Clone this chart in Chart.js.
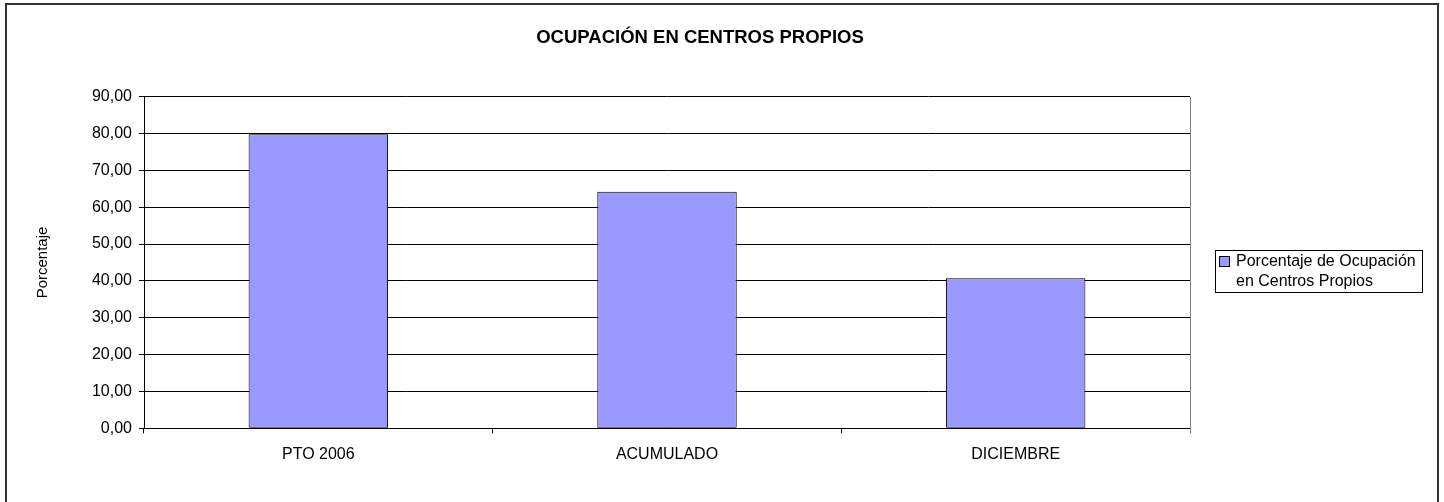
<!DOCTYPE html>
<html>
<head>
<meta charset="utf-8">
<script src="https://cdn.jsdelivr.net/npm/chart.js@4"></script>
<style>
  html, body { margin: 0; padding: 0; background: #fff; overflow: hidden; }
  #wrap { position: relative; width: 1444px; height: 502px; }
  #frame { position: absolute; left: 5px; top: 3px; width: 1430px; height: 520px; border: 2px solid #333; pointer-events: none; }
</style>
</head>
<body>
<div id="wrap">
  <canvas id="chart"></canvas>
  <div id="frame"></div>
</div>
<script>
const categories = ['PTO 2006', 'ACUMULADO', 'DICIEMBRE'];
const ocupacion = [79.8, 64.2, 40.7];
const legendLines = ['Porcentaje de Ocupación', 'en Centros Propios'];
const yTicks = [0, 10, 20, 30, 40, 50, 60, 70, 80, 90];
const chartTitle = 'OCUPACIÓN EN CENTROS PROPIOS';

const FONT = 'Arial, "Liberation Sans", sans-serif';

// plot area border (grey right edge, like the spreadsheet)
const plotBorder = {
    id: 'plotBorder',
    beforeDatasetsDraw(chart) {
        const { ctx, chartArea: a } = chart;
        ctx.save();
        ctx.strokeStyle = '#808080';
        ctx.lineWidth = 1;
        ctx.beginPath();
        ctx.moveTo(Math.round(a.right) + 0.5, Math.round(a.top));
        ctx.lineTo(Math.round(a.right) + 0.5, Math.round(a.bottom) + 5);
        ctx.stroke();
        ctx.restore();
    }
};

// title centred on the page, boxed legend on the right
const extras = {
    id: 'extras',
    afterDraw(chart) {
        const ctx = chart.ctx;
        const ds = chart.data.datasets[0];
        ctx.save();
        ctx.fillStyle = '#000';
        ctx.font = 'bold 18.5px ' + FONT;
        ctx.textAlign = 'center';
        ctx.textBaseline = 'middle';
        ctx.fillText(chartTitle, 700, 38);

        ctx.strokeStyle = '#000';
        ctx.lineWidth = 1;
        ctx.strokeRect(1215.5, 250.5, 207, 42);
        ctx.fillStyle = ds.backgroundColor;
        ctx.fillRect(1219.5, 256.5, 10, 10);
        ctx.strokeRect(1219.5, 256.5, 10, 10);
        ctx.fillStyle = '#000';
        ctx.font = '16px ' + FONT;
        ctx.textAlign = 'left';
        ctx.fillText(legendLines[0], 1236, 262);
        ctx.fillText(legendLines[1], 1236, 282);
        ctx.restore();
    }
};

new Chart(document.getElementById('chart'), {
    type: 'bar',
    data: {
        labels: categories,
        datasets: [{
            label: legendLines.join(' '),
            data: ocupacion,
            backgroundColor: '#9999FF',
            borderColor: '#000',
            borderWidth: 1,
            borderSkipped: false,
            categoryPercentage: 1,
            barPercentage: 0.4
        }]
    },
    options: {
        responsive: true,
        maintainAspectRatio: false,
        animation: false,
        layout: {
            padding: { left: 0, right: 254, top: 96.7, bottom: 25.5 }
        },
        plugins: {
            legend: { display: false },
            tooltip: { enabled: false },
            title: { display: false }
        },
        scales: {
            x: {
                offset: true,
                grid: {
                    offset: true,
                    drawOnChartArea: false,
                    drawTicks: true,
                    tickLength: 5,
                    color: '#000'
                },
                border: { color: '#000', width: 1 },
                ticks: {
                    color: '#000',
                    padding: 12,
                    font: { family: FONT, size: 16 }
                }
            },
            y: {
                min: 0,
                max: 90,
                afterFit(scale) { scale.width = 144; },
                afterBuildTicks(scale) { scale.ticks = yTicks.map(v => ({ value: v })); },
                grid: {
                    color: '#000',
                    lineWidth: 1,
                    drawTicks: true,
                    tickLength: 5
                },
                border: { color: '#000', width: 1 },
                ticks: {
                    color: '#000',
                    padding: 7,
                    font: { family: FONT, size: 16 },
                    callback: v => v.toFixed(2).replace('.', ',')
                },
                title: {
                    display: true,
                    text: 'Porcentaje',
                    color: '#000',
                    font: { family: FONT, size: 15 },
                    padding: { top: 34, bottom: 0 }
                }
            }
        }
    },
    plugins: [plotBorder, extras]
});
</script>
</body>
</html>
